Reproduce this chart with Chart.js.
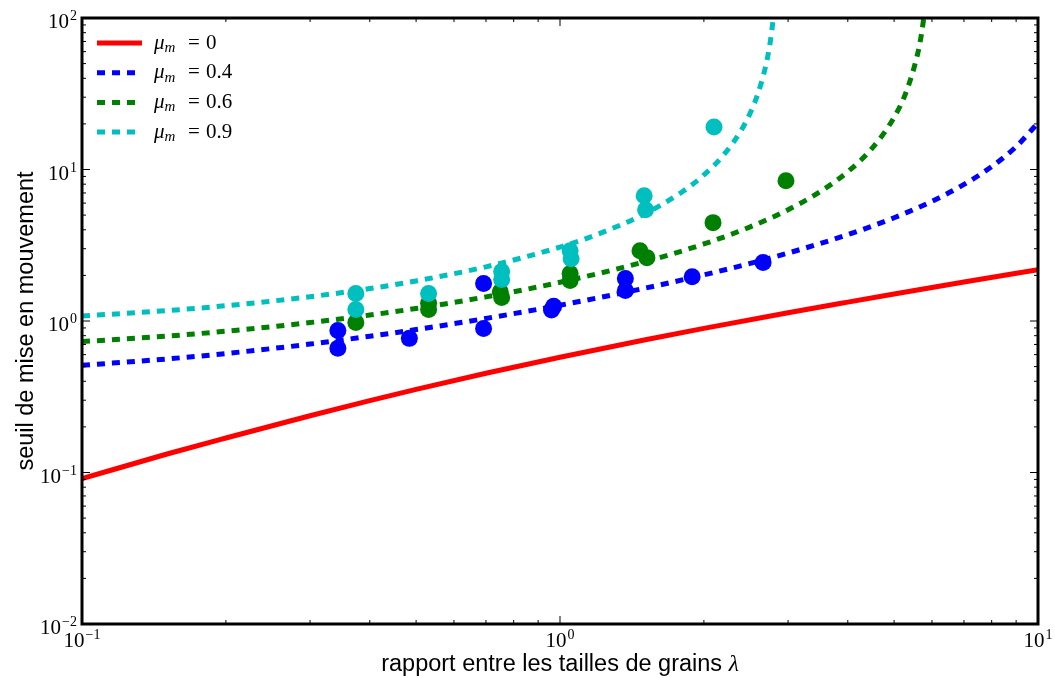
<!DOCTYPE html>
<html>
<head>
<meta charset="utf-8">
<script src="https://cdn.jsdelivr.net/npm/chart.js@4.4.0/dist/chart.umd.min.js"></script>
<style>
  body { margin: 0; background: #fff; }
  canvas { display: block; }
</style>
</head>
<body>
<canvas id="theViz" width="1055" height="678"></canvas>
<script>
// courbes theoriques, valeurs
const lambdaMu0 = [0.1, 0.15, 0.2, 0.3, 0.4, 0.5, 0.7, 1, 1.5, 2, 3, 4, 5, 7, 10];
const seuilMu0 = [0.091, 0.132, 0.169, 0.237, 0.298, 0.354, 0.452, 0.577, 0.75, 0.894, 1.134, 1.333, 1.508, 1.807, 2.182];

const lambdaMu04 = [0.1, 0.15, 0.2, 0.3, 0.4, 0.5, 0.7, 1, 1.5, 2, 2.5, 3, 4, 5, 6, 7, 8, 9, 10];
const seuilMu04 = [0.51, 0.561, 0.61, 0.704, 0.793, 0.878, 1.04, 1.271, 1.643, 2.016, 2.4, 2.807, 3.714, 4.805, 6.17, 7.97, 10.45, 14.16, 20.3];

const lambdaMu06 = [0.1, 0.15, 0.2, 0.3, 0.4, 0.5, 0.7, 1, 1.5, 2, 2.5, 3, 3.5, 4, 4.5, 5, 5.3, 5.6, 5.7, 5.8];
const seuilMu06 = [0.731, 0.794, 0.856, 0.976, 1.094, 1.21, 1.443, 1.801, 2.455, 3.225, 4.181, 5.424, 7.135, 9.667, 13.84, 22.1, 32.5, 58, 77, 114];

const lambdaMu09 = [0.1, 0.15, 0.2, 0.3, 0.4, 0.5, 0.7, 1, 1.2, 1.5, 1.8, 2, 2.2, 2.4, 2.5, 2.6, 2.7, 2.75, 2.8];
const seuilMu09 = [1.08, 1.17, 1.261, 1.446, 1.637, 1.839, 2.278, 3.076, 3.743, 5.077, 7.108, 9.202, 12.48, 18.4, 23.57, 32.3, 49.9, 67.8, 104];

// mesures
const lambdaBleu = [0.343, 0.343, 0.484, 0.692, 0.692, 0.96, 0.97, 1.37, 1.37, 1.89, 2.66];
const seuilBleu = [0.865, 0.66, 0.768, 1.77, 0.893, 1.18, 1.25, 1.91, 1.59, 1.96, 2.43];
const lambdaVert = [0.374, 0.531, 0.531, 0.75, 0.755, 1.05, 1.05, 1.47, 1.52, 2.09, 2.97];
const seuilVert = [0.977, 1.31, 1.19, 1.56, 1.43, 2.06, 1.85, 2.91, 2.62, 4.46, 8.43];
const lambdaCyan = [0.374, 0.374, 0.531, 0.755, 0.755, 1.05, 1.055, 1.5, 1.51, 2.1];
const seuilCyan = [1.52, 1.19, 1.52, 2.12, 1.88, 2.91, 2.58, 6.71, 5.43, 19.1];

const muLabels = ['0', '0.4', '0.6', '0.9'];
const couleurs = ['#ff0000', '#0000ff', '#008000', '#00bfbf'];
const xTicks = [0.1, 1, 10];
const yTicks = [0.01, 0.1, 1, 10, 100];

const pts = (xs, ys) => xs.map((x, i) => ({x: x, y: ys[i]}));

function courbe(xs, ys, color, dashed, order) {
    return {
        type: 'line',
        data: pts(xs, ys),
        borderColor: color,
        borderWidth: 5,
        borderDash: dashed ? [8, 7] : [],
        pointRadius: 0,
        fill: false,
        cubicInterpolationMode: 'monotone',
        clip: 0,
        order: order
    };
}

function nuage(xs, ys, color, order) {
    return {
        type: 'scatter',
        data: pts(xs, ys),
        backgroundColor: color,
        borderWidth: 0,
        pointRadius: 8.5,
        pointHoverRadius: 8.5,
        order: order
    };
}

function drawPow(ctx, exp, x, yBase, align) {
    const base = '21px "Liberation Serif"', sup = '14px "Liberation Serif"';
    const e = exp < 0 ? '\u2212' + (-exp) : String(exp);
    ctx.font = base;
    const wb = ctx.measureText('10').width;
    ctx.font = sup;
    const we = ctx.measureText(e).width + 1;
    let x0 = align === 'right' ? x - wb - we : x - (wb + we) / 2;
    ctx.textAlign = 'left';
    ctx.textBaseline = 'alphabetic';
    ctx.font = base;
    ctx.fillText('10', x0, yBase);
    ctx.font = sup;
    ctx.fillText(e, x0 + wb + 1, yBase - 8);
}

const cadre = {
    id: 'cadre',
    afterDraw(chart) {
        const {ctx, chartArea: a, scales: {x, y}} = chart;
        ctx.save();
        ctx.strokeStyle = '#000';
        ctx.fillStyle = '#000';
        ctx.lineWidth = 1;
        ctx.beginPath();
        for (let d = -1; d < 1; d++) {
            for (let k = 1; k <= 9; k++) {
                const px = x.getPixelForValue(k * Math.pow(10, d));
                const len = k === 1 ? 8 : 4;
                ctx.moveTo(px, a.bottom); ctx.lineTo(px, a.bottom - len);
                ctx.moveTo(px, a.top); ctx.lineTo(px, a.top + len);
            }
        }
        for (let d = -2; d < 2; d++) {
            for (let k = 1; k <= 9; k++) {
                const py = y.getPixelForValue(k * Math.pow(10, d));
                const len = k === 1 ? 8 : 4;
                ctx.moveTo(a.left, py); ctx.lineTo(a.left + len, py);
                ctx.moveTo(a.right, py); ctx.lineTo(a.right - len, py);
            }
        }
        ctx.stroke();
        ctx.lineWidth = 3;
        ctx.strokeRect(a.left, a.top, a.right - a.left, a.bottom - a.top);

        // etiquettes des graduations
        xTicks.forEach(v => drawPow(ctx, Math.round(Math.log10(v)), x.getPixelForValue(v), a.bottom + 23, 'center'));
        yTicks.forEach(v => drawPow(ctx, Math.round(Math.log10(v)), a.left - 5, y.getPixelForValue(v) + 10, 'right'));

        // titres des axes
        ctx.font = '23.5px "Liberation Sans"';
        ctx.textAlign = 'center';
        ctx.textBaseline = 'middle';
        ctx.save();
        ctx.translate(27, (a.top + a.bottom) / 2);
        ctx.rotate(-Math.PI / 2);
        ctx.fillText('seuil de mise en mouvement', 0, 0);
        ctx.restore();

        const txt = 'rapport entre les tailles de grains ';
        ctx.font = '23.5px "Liberation Sans"';
        const w1 = ctx.measureText(txt).width;
        ctx.font = 'italic 23.5px "Liberation Serif"';
        const w2 = ctx.measureText('\u03bb').width;
        const x0 = (a.left + a.right) / 2 - (w1 + w2) / 2;
        ctx.textAlign = 'left';
        ctx.textBaseline = 'alphabetic';
        ctx.font = '23.5px "Liberation Sans"';
        ctx.fillText(txt, x0, 671);
        ctx.font = 'italic 23.5px "Liberation Serif"';
        ctx.fillText('\u03bb', x0 + w1, 671);

        // legende
        muLabels.forEach((m, i) => {
            const ly = 43 + i * 29.7;
            ctx.strokeStyle = couleurs[i];
            ctx.lineWidth = 5;
            ctx.setLineDash(i === 0 ? [] : [8, 7]);
            ctx.beginPath();
            ctx.moveTo(97, ly); ctx.lineTo(142, ly);
            ctx.stroke();
            ctx.setLineDash([]);
            ctx.fillStyle = '#000';
            ctx.textBaseline = 'middle';
            ctx.font = 'italic 21px "Liberation Serif"';
            ctx.fillText('\u03bc', 154, ly);
            const wm = ctx.measureText('\u03bc').width;
            ctx.font = 'italic 15px "Liberation Serif"';
            ctx.fillText('m', 154 + wm, ly + 5);
            ctx.font = '21px "Liberation Serif"';
            ctx.fillText('=', 188, ly);
            ctx.fillText(m, 206, ly);
        });
        ctx.restore();
    }
};

const ctx = document.getElementById('theViz').getContext('2d');
window.theViz = new Chart(ctx, {
    data: {
        datasets: [
            nuage(lambdaCyan, seuilCyan, couleurs[3], 1),
            nuage(lambdaVert, seuilVert, couleurs[2], 2),
            nuage(lambdaBleu, seuilBleu, couleurs[1], 3),
            courbe(lambdaMu09, seuilMu09, couleurs[3], true, 4),
            courbe(lambdaMu06, seuilMu06, couleurs[2], true, 5),
            courbe(lambdaMu04, seuilMu04, couleurs[1], true, 6),
            courbe(lambdaMu0, seuilMu0, couleurs[0], false, 7)
        ]
    },
    options: {
        responsive: false,
        animation: false,
        devicePixelRatio: 1,
        layout: {
            padding: {left: 82, right: 17, top: 18, bottom: 54}
        },
        scales: {
            x: {type: 'logarithmic', min: 0.1, max: 10, display: false},
            y: {type: 'logarithmic', min: 0.01, max: 100, display: false}
        },
        plugins: {
            legend: {display: false},
            tooltip: {enabled: false}
        }
    },
    plugins: [cadre]
});
</script>
</body>
</html>
